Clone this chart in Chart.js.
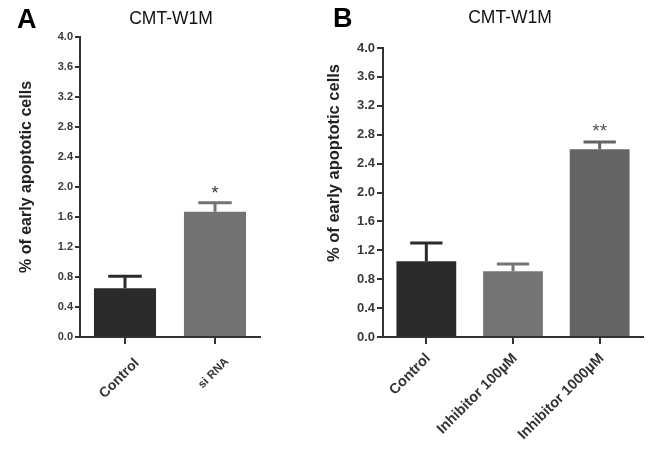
<!DOCTYPE html>
<html>
<head>
<meta charset="utf-8">
<script src="https://cdn.jsdelivr.net/npm/chart.js@4/dist/chart.umd.min.js"></script>
<style>
  html, body { margin: 0; padding: 0; background: #ffffff; }
  #wrap { position: relative; width: 658px; height: 457px; overflow: hidden; background: #fff; }
  canvas { position: absolute; top: 0; }
  #cA { left: 0; }
  #cB { left: 320px; }
</style>
</head>
<body>
<div id="wrap">
  <canvas id="cA" width="320" height="457"></canvas>
  <canvas id="cB" width="338" height="457"></canvas>
</div>
<script>
// ---- data ----
const panelTitle = 'CMT-W1M';
const yAxisTitle = '% of early apoptotic cells';
const yMin = 0;
const yMax = 4.0;
const yStep = 0.4;

const categoriesA = ['Control', 'si RNA'];
const valuesA = [0.65, 1.67];
const errorsA = [0.16, 0.12];
const marksA = ['', '*'];

const categoriesB = ['Control', 'Inhibitor 100\u00b5M', 'Inhibitor 1000\u00b5M'];
const valuesB = [1.05, 0.91, 2.60];
const errorsB = [0.25, 0.10, 0.10];
const marksB = ['', '', '**'];

// ---- styling ----
const FONT = 'Liberation Sans, Arial, Helvetica, sans-serif';
const AXIS = '#333333';
const colorsA = ['#2b2b2b', '#737373'];
const colorsB = ['#2b2b2b', '#747474', '#646464'];

const annotPlugin = {
  id: 'annot',
  afterDatasetsDraw(chart, args, o) {
    const ctx = chart.ctx;
    const meta = chart.getDatasetMeta(0);
    const ys = chart.scales.y;
    const ds = chart.data.datasets[0];
    meta.data.forEach((bar, i) => {
      const v = ds.data[i];
      const e = o.errors[i];
      const yTop = ys.getPixelForValue(v + e);
      const half = bar.width * o.capRatio;
      ctx.save();
      ctx.strokeStyle = ds.backgroundColor[i];
      ctx.lineWidth = 3;
      ctx.lineCap = 'butt';
      ctx.beginPath();
      ctx.moveTo(bar.x, bar.y);
      ctx.lineTo(bar.x, yTop);
      ctx.moveTo(bar.x - half, yTop);
      ctx.lineTo(bar.x + half, yTop);
      ctx.stroke();
      const m = o.marks[i];
      if (m) {
        ctx.fillStyle = o.markColor;
        ctx.font = o.markSize + 'px ' + FONT;
        ctx.textAlign = 'center';
        ctx.textBaseline = 'alphabetic';
        ctx.fillText(m, bar.x, yTop - o.markGap + o.markSize * 0.55);
      }
      ctx.restore();
    });
  },
  afterDraw(chart, args, o) {
    const ctx = chart.ctx;
    ctx.save();
    // panel letter
    ctx.fillStyle = '#000';
    ctx.font = 'bold 27px ' + FONT;
    ctx.textAlign = 'left';
    ctx.textBaseline = 'alphabetic';
    ctx.fillText(o.letter, o.letterX, o.letterY);
    // title
    ctx.fillStyle = '#111';
    ctx.font = '17.5px ' + FONT;
    ctx.textAlign = 'center';
    ctx.fillText(o.title, o.titleX, o.titleY);
    // y-axis title
    ctx.translate(o.yTitleX, o.yTitleY);
    ctx.rotate(-Math.PI / 2);
    ctx.fillStyle = '#222';
    ctx.font = 'bold ' + o.yTitleSize + 'px ' + FONT;
    ctx.textAlign = 'center';
    ctx.textBaseline = 'middle';
    ctx.fillText(o.yTitle, 0, 0);
    ctx.restore();
  }
};

function makeChart(id, cats, vals, cols, errs, marks, cfg) {
  return new Chart(document.getElementById(id), {
    type: 'bar',
    data: {
      labels: cats,
      datasets: [{
        data: vals,
        backgroundColor: cols,
        borderWidth: 0,
        categoryPercentage: 1.0,
        barPercentage: 0.69
      }]
    },
    options: {
      responsive: false,
      animation: false,
      devicePixelRatio: 1,
      layout: { padding: { left: 0, right: cfg.padRight, top: cfg.padTop, bottom: 0 } },
      plugins: {
        legend: { display: false },
        tooltip: { enabled: false },
        title: { display: false },
        annot: {
          errors: errs,
          marks: marks,
          capRatio: 0.27,
          markColor: cfg.markColor,
          markSize: cfg.markSize,
          markGap: cfg.markGap,
          letter: cfg.letter,
          letterX: cfg.letterX,
          letterY: cfg.letterY,
          title: panelTitle,
          titleX: cfg.titleX,
          titleY: cfg.titleY,
          yTitle: yAxisTitle,
          yTitleX: cfg.yTitleX,
          yTitleY: cfg.yTitleY,
          yTitleSize: cfg.yTitleSize
        }
      },
      scales: {
        x: {
          grid: { offset: false, drawOnChartArea: false, drawTicks: true, tickLength: 7, color: AXIS, lineWidth: 2 },
          border: { color: AXIS, width: 2 },
          ticks: {
            autoSkip: false,
            maxRotation: 45,
            minRotation: 45,
            color: AXIS,
            padding: cfg.xPad,
            labelOffset: cfg.xLabelOffset,
            font: (c) => ({ family: FONT, weight: 'bold', size: cfg.xFontSizes[c.index] || 14 })
          },
          afterFit: (s) => { s.height = cfg.xHeight; s.paddingLeft = 0; s.paddingRight = 0; }
        },
        y: {
          min: yMin,
          max: yMax,
          ticks: {
            stepSize: yStep,
            color: '#3a3a3a',
            padding: 2,
            font: { family: FONT, weight: 'bold', size: cfg.yTickSize },
            callback: (v) => Number(v).toFixed(1)
          },
          grid: { drawOnChartArea: false, drawTicks: true, tickLength: cfg.yTickLen, color: AXIS, lineWidth: 2 },
          border: { color: AXIS, width: 2 },
          afterFit: (s) => { s.width = cfg.yWidth; s.paddingTop = 0; s.paddingBottom = 0; }
        }
      }
    },
    plugins: [annotPlugin]
  });
}

makeChart('cA', categoriesA, valuesA, colorsA, errorsA, marksA, {
  padRight: 60, padTop: 37, yWidth: 80, xHeight: 120, yTickSize: 11, yTickLen: 5,
  xFontSizes: [14, 11.5], xPad: 11, xLabelOffset: 12,
  markColor: '#333', markSize: 18, markGap: 14,
  letter: 'A', letterX: 17, letterY: 28,
  titleX: 171, titleY: 24,
  yTitleX: 27, yTitleY: 177, yTitleSize: 16
});

makeChart('cB', categoriesB, valuesB, colorsB, errorsB, marksB, {
  padRight: 15, padTop: 48, yWidth: 63, xHeight: 120, yTickSize: 13, yTickLen: 6,
  xFontSizes: [14.5, 14.5, 14.5], xPad: 6, xLabelOffset: 2,
  markColor: '#555', markSize: 19, markGap: 15,
  letter: 'B', letterX: 13, letterY: 27,
  titleX: 190, titleY: 23,
  yTitleX: 14, yTitleY: 163, yTitleSize: 16.5
});
</script>
</body>
</html>
